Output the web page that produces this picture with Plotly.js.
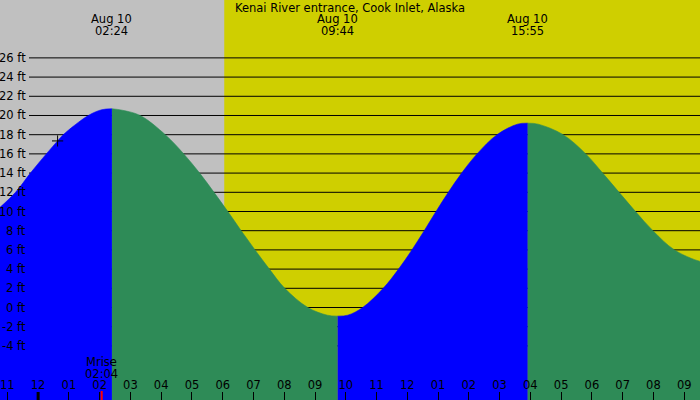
<!DOCTYPE html>
<html>
<head>
<meta charset="utf-8">
<script src="https://cdn.plot.ly/plotly-3.0.1.min.js"></script>
<style>
html,body{margin:0;padding:0;background:#c0c0c0;}
#chart{width:700px;height:400px;}
</style>
</head>
<body>
<div id="chart"></div>
<script>
// ---- text ----
const stationName = "Kenai River entrance, Cook Inlet, Alaska";

// ---- tide readings (ft), split into rising (blue) and falling (green) runs ----
const rise1Times = ["2024-08-09 22:45","2024-08-09 23:16","2024-08-09 23:45","2024-08-10 00:16","2024-08-10 00:38","2024-08-10 00:49","2024-08-10 01:38","2024-08-10 02:04","2024-08-10 02:24"];
const rise1Heights = [10.4, 12, 14, 16, 17.35, 18, 20, 20.6, 20.7];

const fall1Times = ["2024-08-10 02:24","2024-08-10 02:44","2024-08-10 03:19","2024-08-10 04:08","2024-08-10 04:44","2024-08-10 05:15","2024-08-10 05:43","2024-08-10 06:10","2024-08-10 06:36","2024-08-10 07:03","2024-08-10 07:31","2024-08-10 08:01","2024-08-10 08:46","2024-08-10 09:24","2024-08-10 09:44"];
const fall1Heights = [20.7, 20.55, 20, 18, 16, 14, 12, 10, 8, 6, 4, 2, 0, -0.8, -0.9];

const rise2Times = ["2024-08-10 09:44","2024-08-10 10:04","2024-08-10 10:33","2024-08-10 11:13","2024-08-10 11:43","2024-08-10 12:09","2024-08-10 12:33","2024-08-10 12:56","2024-08-10 13:20","2024-08-10 13:46","2024-08-10 14:16","2024-08-10 14:55","2024-08-10 15:35","2024-08-10 15:55"];
const rise2Heights = [-0.9, -0.8, 0, 2, 4, 6, 8, 10, 12, 14, 16, 18, 19.1, 19.2];

const fall2Times = ["2024-08-10 15:55","2024-08-10 16:15","2024-08-10 17:04","2024-08-10 17:48","2024-08-10 18:21","2024-08-10 18:53","2024-08-10 19:25","2024-08-10 19:59","2024-08-10 20:41","2024-08-10 21:31","2024-08-10 21:47"];
const fall2Heights = [19.2, 19.1, 18, 16, 14, 12, 10, 8, 6, 4.8, 4.7];

// ---- high / low labels across the top ----
const extremeTimes = ["2024-08-10 02:24","2024-08-10 09:44","2024-08-10 15:55","2024-08-10 21:47"];
const extremeDays = ["Aug 10","Aug 10","Aug 10","Aug 10"];
const extremeClock = ["02:24","09:44","15:55","21:47"];

// ---- sun / moon / current time ----
const sunriseTime = "2024-08-10 06:03";
const sunsetTime = "2024-08-10 22:05";
const moonriseTime = "2024-08-10 02:04";
const moonriseLabel = "Mrise";
const moonriseClock = "02:04";
const nowTime = ["2024-08-10 00:38"];
const nowHeight = [17.35];
const midnightTime = "2024-08-10 00:00";

// ---- axes ----
const yTickValues = [26,24,22,20,18,16,14,12,10,8,6,4,2,0,-2,-4];
const yTickUnit = " ft";
const xRange = ["2024-08-09 22:45:40","2024-08-10 21:30:50"];
const yRange = [-9.635, 32.03];

// ---- styles ----
const FONT = "DejaVu Sans";
const BLUE = "#0000ff";
const GREEN = "#2e8b57";
const NIGHT = "#c0c0c0";
const DAY = "#cfcf00";

const segments = [
  {x: rise1Times, y: rise1Heights, c: BLUE},
  {x: fall1Times, y: fall1Heights, c: GREEN},
  {x: rise2Times, y: rise2Heights, c: BLUE},
  {x: fall2Times, y: fall2Heights, c: GREEN}
];

const floorY = yRange[0] - 2;
const traces = [];
segments.forEach(s => {
  traces.push({
    x: [s.x[0], s.x[s.x.length - 1]],
    y: [floorY, floorY],
    type: "scatter", mode: "lines",
    line: {width: 0, color: s.c},
    hoverinfo: "skip", showlegend: false
  });
  traces.push({
    x: s.x, y: s.y,
    type: "scatter", mode: "lines",
    line: {shape: "spline", smoothing: 1, width: 0.6, color: s.c},
    fill: "tonexty", fillcolor: s.c,
    hoverinfo: "skip", showlegend: false
  });
});
traces.push({
  x: nowTime, y: nowHeight,
  type: "scatter", mode: "markers",
  marker: {symbol: "cross-thin", size: 8, color: "#000", line: {width: 1, color: "#000"}},
  hoverinfo: "skip", showlegend: false
});

const shapes = [];
shapes.push({type: "rect", xref: "x", yref: "paper", x0: sunriseTime, x1: sunsetTime, y0: 0, y1: 1,
  fillcolor: DAY, line: {width: 0}, layer: "below"});
yTickValues.forEach(v => {
  shapes.push({type: "line", xref: "paper", yref: "y", x0: 29/700, x1: 1, y0: v, y1: v,
    line: {color: "#000", width: 1}, layer: "below"});
});
shapes.push({type: "line", xref: "x", yref: "paper", x0: midnightTime, x1: midnightTime, y0: 0, y1: 8/400,
  line: {color: "#000", width: 3}, layer: "above"});
shapes.push({type: "line", xref: "x", yref: "paper", x0: moonriseTime, x1: moonriseTime, y0: 0, y1: 9/400,
  line: {color: "#ff0000", width: 2}, layer: "above"});

const annotations = [];
const txt = (size) => ({family: FONT, size: size, color: "#000"});
yTickValues.forEach(v => {
  annotations.push({text: v + yTickUnit, xref: "paper", yref: "y", x: 27.5/700, y: v,
    xanchor: "right", yanchor: "middle", showarrow: false, font: txt(11.5)});
});
extremeTimes.forEach((t, i) => {
  annotations.push({text: extremeDays[i], xref: "x", yref: "paper", x: t, y: 1 - 19.5/400,
    axref: "x", ax: xRange[0], xanchor: "center", yanchor: "middle", showarrow: false, font: txt(11.5)});
  annotations.push({text: extremeClock[i], xref: "x", yref: "paper", x: t, y: 1 - 31/400,
    axref: "x", ax: xRange[0], xanchor: "center", yanchor: "middle", showarrow: false, font: txt(11.5)});
});
annotations.push({text: moonriseLabel, xref: "x", yref: "paper", x: moonriseTime, y: 1 - 361.5/400,
  xanchor: "center", yanchor: "middle", showarrow: false, font: txt(11.5)});
annotations.push({text: moonriseClock, xref: "x", yref: "paper", x: moonriseTime, y: 1 - 374/400,
  xanchor: "center", yanchor: "middle", showarrow: false, font: txt(11.5)});

const layout = {
  width: 700, height: 400,
  margin: {l: 0, r: 0, t: 0, b: 0, pad: 0},
  paper_bgcolor: NIGHT, plot_bgcolor: NIGHT,
  showlegend: false,
  title: {text: stationName, font: txt(11.5), x: 0.5, xanchor: "center",
    y: 1 - 7.5/400, yanchor: "middle", yref: "container"},
  xaxis: {
    type: "date", range: xRange, fixedrange: true,
    tickmode: "linear", tick0: midnightTime, dtick: 3600000, tickformat: "%I",
    ticks: "inside", ticklen: 8, tickwidth: 1, tickcolor: "#000",
    ticklabelposition: "inside", tickfont: txt(11.5),
    showgrid: false, zeroline: false, showline: false
  },
  yaxis: {range: yRange, visible: false, fixedrange: true, showgrid: false, zeroline: false},
  shapes: shapes,
  annotations: annotations
};

Plotly.newPlot("chart", traces, layout, {displayModeBar: false, staticPlot: true});
</script>
</body>
</html>
